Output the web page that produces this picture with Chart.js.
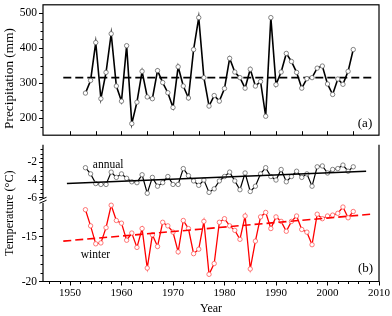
<!DOCTYPE html>
<html><head><meta charset="utf-8">
<script src="https://cdn.jsdelivr.net/npm/chart.js@4"></script>
<style>
html,body{margin:0;padding:0;background:#fff;}
#wrap{position:relative;width:392px;height:316px;overflow:hidden;}
#cA{position:absolute;left:0;top:0;}
#cB{position:absolute;left:0;top:140px;}
</style></head><body>
<div id="wrap">
<canvas id="cA" width="392" height="140"></canvas>
<canvas id="cB" width="392" height="176"></canvas>
</div>
<script>
// ---------- data ----------
const years = [1953,1954,1955,1956,1957,1958,1959,1960,1961,1962,1963,1964,1965,1966,1967,1968,1969,1970,1971,1972,1973,1974,1975,1976,1977,1978,1979,1980,1981,1982,1983,1984,1985,1986,1987,1988,1989,1990,1991,1992,1993,1994,1995,1996,1997,1998,1999,2000,2001,2002,2003,2004,2005];
const precipitation = [272,308,416,256,331,441,292,249,407,185,246,334,261,256,336,302,273,231,347,292,258,396,487,316,235,265,249,285,371,332,316,286,340,292,305,206,487,296,332,385,362,331,286,313,316,343,349,298,268,312,297,334,396];
const meanLineYears = [1948.7, 2008.5];
const precipMean = [316, 316];
const annualTemp = [-2.6,-3.3,-4.4,-4.5,-4.5,-3.1,-3.7,-3.3,-3.8,-4.2,-4.3,-3.4,-5.5,-3.7,-4.7,-4.3,-3.6,-4.5,-4.5,-2.7,-3.5,-4.1,-4.6,-4.0,-5.4,-5.0,-4.1,-3.6,-3.1,-4.1,-5.1,-3.2,-5.3,-4.7,-3.3,-2.6,-3.6,-4.0,-2.8,-4.2,-3.6,-3.0,-3.7,-3.3,-4.7,-2.5,-2.4,-3.2,-2.8,-2.7,-2.3,-3.0,-2.5];
const annualTrendYears = [1949.4, 2007.5];
const annualTrend = [-4.4, -3.0];
const winterTemp = [-12.0,-13.8,-15.8,-15.7,-14.0,-11.5,-13.2,-13.5,-15.4,-14.6,-16.2,-14.1,-18.5,-14.8,-16.1,-13.4,-13.8,-14.5,-16.7,-13.2,-14.1,-16.9,-16.4,-13.3,-19.2,-18.0,-13.4,-13.0,-13.8,-14.3,-15.3,-12.7,-18.6,-15.5,-12.8,-12.3,-14.1,-12.8,-13.3,-14.4,-13.3,-12.7,-14.2,-14.5,-15.9,-12.5,-13.0,-12.7,-12.6,-12.4,-11.7,-12.9,-12.2];
const winterTrendYears = [1948.7, 2008.5];
const winterTrend = [-15.5, -12.5];

// ---------- ticks ----------
const precipTicks = [200,300,400,500];
const precipMinorTicks = [175,225,250,275,325,350,375,425,450,475,525];
const annualTicks = [-6,-4,-2];
const annualMinorTicks = [-5.5,-5,-4.5,-3.5,-3,-2.5,-1.5,-1,-0.5];
const winterTicks = [-20,-15];
const winterMinorTicks = [-19,-18,-17,-16,-14,-13,-12];
const yearTicks = [1950,1960,1970,1980,1990,2000,2010];
const yearMinorTicks = [1946,1948,1952,1954,1956,1958,1962,1964,1966,1968,1972,1974,1976,1978,1982,1984,1986,1988,1992,1994,1996,1998,2002,2004,2006,2008];
const panelATickYears = [1950,1955,1960,1965,1970,1975,1980,1985,1990,1995,2000,2005];

const SERIF = '"Liberation Serif", "Times New Roman", serif';
Chart.defaults.font.family = SERIF;
Chart.defaults.color = '#000';

const pts = (xs, ys) => xs.map((x, i) => ({x, y: ys[i]}));
const X_MIN = 1944.76, X_MAX = 2010;
const noPad = s => { s.paddingTop = 0; s.paddingBottom = 0; s.paddingLeft = 0; s.paddingRight = 0; };

// ---------- panel (a) ----------
const frameA = {
  id: 'frameA',
  afterDraw(chart) {
    const {ctx, chartArea: a, scales: {x, y}} = chart;
    ctx.save();
    ctx.strokeStyle = '#000';
    ctx.lineWidth = 1.2;
    ctx.strokeRect(a.left, a.top, a.right - a.left, a.bottom - a.top);
    ctx.lineWidth = 1;
    ctx.beginPath();
    for (const v of panelATickYears) {
      const px = Math.round(x.getPixelForValue(v)) + 0.5;
      ctx.moveTo(px, a.bottom);
      ctx.lineTo(px, a.bottom - 4);
    }
    for (const v of precipMinorTicks) {
      const py = Math.round(y.getPixelForValue(v)) + 0.5;
      if (py < a.top || py > a.bottom) continue;
      ctx.moveTo(a.left, py); ctx.lineTo(a.left - 2.5, py);
    }
    ctx.stroke();
    ctx.fillStyle = '#000';
    ctx.font = '13px ' + SERIF;
    ctx.textAlign = 'center';
    ctx.textBaseline = 'middle';
    ctx.fillText('(a)', a.right - 14, a.bottom - 12);
    // axis title
    ctx.translate(10, (a.top + a.bottom) / 2 + 8.5);
    ctx.rotate(-Math.PI / 2);
    ctx.font = '13.3px ' + SERIF;
    ctx.fillText('Precipitation (mm)', 0, 0);
    ctx.restore();
  }
};

new Chart(document.getElementById('cA'), {
  type: 'line',
  data: {
    datasets: [
      {
        data: pts(years, precipitation),
        borderColor: '#000', borderWidth: 1.6, tension: 0,
        pointRadius: 2.2, pointBorderWidth: 0.8,
        pointBorderColor: '#666', pointBackgroundColor: '#fff'
      },
      {
        data: pts(meanLineYears, precipMean),
        borderColor: '#000', borderWidth: 1.6, borderDash: [8, 4],
        pointRadius: 0
      }
    ]
  },
  options: {
    responsive: false, animation: false, devicePixelRatio: 1,
    layout: {padding: {left: 0, right: 13, top: 2, bottom: 0.5}},
    plugins: {legend: {display: false}, tooltip: {enabled: false}},
    scales: {
      x: {type: 'linear', min: X_MIN, max: X_MAX, display: false},
      y: {
        type: 'linear', min: 152, max: 523.5,
        afterBuildTicks: s => { s.ticks = precipTicks.map(v => ({value: v})); },
        afterFit: s => { s.width = 43; noPad(s); },
        ticks: {font: {size: 11.5}, padding: 2, callback: v => String(v)},
        grid: {drawOnChartArea: false, drawTicks: true, tickLength: 4, tickColor: '#000'},
        border: {display: false}
      }
    }
  },
  plugins: [frameA]
});

// ---------- panel (b) ----------
const frameB = {
  id: 'frameB',
  afterDraw(chart) {
    const {ctx, chartArea: a, scales: {x, yA, yW}} = chart;
    ctx.save();
    ctx.strokeStyle = '#000';
    ctx.fillStyle = '#000';
    ctx.lineWidth = 1.2;
    const brk = yA.bottom;
    ctx.beginPath();
    ctx.moveTo(a.left, a.top); ctx.lineTo(a.left, brk - 2);
    ctx.moveTo(a.left, brk + 2); ctx.lineTo(a.left, a.bottom);
    ctx.lineTo(a.right, a.bottom); ctx.lineTo(a.right, a.top);
    ctx.stroke();
    // break marks
    ctx.lineWidth = 1;
    ctx.beginPath();
    ctx.moveTo(a.left - 3.5, brk - 0.5); ctx.lineTo(a.left + 3.5, brk - 3.5);
    ctx.moveTo(a.left - 3.5, brk + 2.5); ctx.lineTo(a.left + 3.5, brk - 0.5);
    ctx.stroke();
    // x ticks (outward)
    ctx.beginPath();
    for (const v of yearTicks) {
      const px = Math.round(x.getPixelForValue(v)) + 0.5;
      ctx.moveTo(px, a.bottom); ctx.lineTo(px, a.bottom + 4);
    }
    for (const v of yearMinorTicks) {
      const px = Math.round(x.getPixelForValue(v)) + 0.5;
      ctx.moveTo(px, a.bottom); ctx.lineTo(px, a.bottom + 2.5);
    }
    for (const v of annualMinorTicks) {
      const py = Math.round(yA.getPixelForValue(v)) + 0.5;
      ctx.moveTo(a.left, py); ctx.lineTo(a.left - 2.5, py);
    }
    for (const v of winterMinorTicks) {
      const py = Math.round(yW.getPixelForValue(v)) + 0.5;
      ctx.moveTo(a.left, py); ctx.lineTo(a.left - 2.5, py);
    }
    ctx.stroke();
    ctx.textAlign = 'center';
    ctx.textBaseline = 'middle';
    ctx.font = '11.5px ' + SERIF;
    ctx.fillText('annual', x.getPixelForValue(1957.4), yA.getPixelForValue(-2.3));
    ctx.fillText('winter', x.getPixelForValue(1954.95), yW.getPixelForValue(-17.1));
    ctx.font = '13px ' + SERIF;
    ctx.fillText('(b)', a.right - 13.5, a.bottom - 12.5);
    ctx.restore();
  }
};

new Chart(document.getElementById('cB'), {
  type: 'line',
  data: {
    datasets: [
      {
        data: pts(annualTrendYears, annualTrend), yAxisID: 'yA',
        borderColor: '#000', borderWidth: 1.6, pointRadius: 0
      },
      {
        data: pts(winterTrendYears, winterTrend), yAxisID: 'yW',
        borderColor: '#ff0000', borderWidth: 1.6, borderDash: [8, 4], pointRadius: 0
      },
      {
        data: pts(years, annualTemp), yAxisID: 'yA',
        borderColor: '#000', borderWidth: 1.2, tension: 0,
        pointRadius: 2.2, pointBorderWidth: 0.8,
        pointBorderColor: '#666', pointBackgroundColor: '#fff'
      },
      {
        data: pts(years, winterTemp), yAxisID: 'yW',
        borderColor: '#ff0000', borderWidth: 1.3, tension: 0,
        pointRadius: 2.2, pointBorderWidth: 0.8,
        pointBorderColor: '#ff5555', pointBackgroundColor: '#fff'
      }
    ]
  },
  options: {
    responsive: false, animation: false, devicePixelRatio: 1,
    layout: {padding: {left: 0, right: 13, top: 1, bottom: 0}},
    plugins: {legend: {display: false}, tooltip: {enabled: false}},
    scales: {
      x: {
        type: 'linear', min: X_MIN, max: X_MAX,
        afterBuildTicks: s => { s.ticks = yearTicks.map(v => ({value: v})); },
        afterFit: s => { s.height = 34.5; noPad(s); },
        ticks: {font: {size: 11}, padding: 5, maxRotation: 0, autoSkip: false, callback: v => String(v)},
        grid: {display: false, drawTicks: false},
        border: {display: false},
        title: {display: true, text: 'Year', font: {size: 12}, padding: {top: 0, bottom: 0}}
      },
      yT: {
        type: 'linear', position: 'left', weight: 10, min: 0, max: 1,
        afterFit: s => { s.width = 20; noPad(s); },
        ticks: {display: false},
        grid: {display: false, drawTicks: false},
        border: {display: false},
        title: {display: true, text: 'Temperature (°C)', font: {size: 12.2}, padding: {top: 2, bottom: 0}}
      },
      yA: {
        type: 'linear', position: 'left', stack: 'temp', stackWeight: 57.5, weight: 1,
        min: -6.35, max: 0,
        afterBuildTicks: s => { s.ticks = annualTicks.map(v => ({value: v})); },
        afterFit: s => { s.width = 23; noPad(s); },
        ticks: {font: {size: 11.5}, padding: 2, callback: v => String(v)},
        grid: {drawOnChartArea: false, drawTicks: true, tickLength: 4, tickColor: '#000'},
        border: {display: false}
      },
      yW: {
        type: 'linear', position: 'left', stack: 'temp', stackWeight: 83, weight: 0,
        min: -20, max: -11,
        afterBuildTicks: s => { s.ticks = winterTicks.map(v => ({value: v})); },
        afterFit: s => { s.width = 23; noPad(s); },
        ticks: {font: {size: 11.5}, padding: 2, callback: v => String(v)},
        grid: {drawOnChartArea: false, drawTicks: true, tickLength: 4, tickColor: '#000'},
        border: {display: false}
      }
    }
  },
  plugins: [frameB]
});
</script>
</body></html>
